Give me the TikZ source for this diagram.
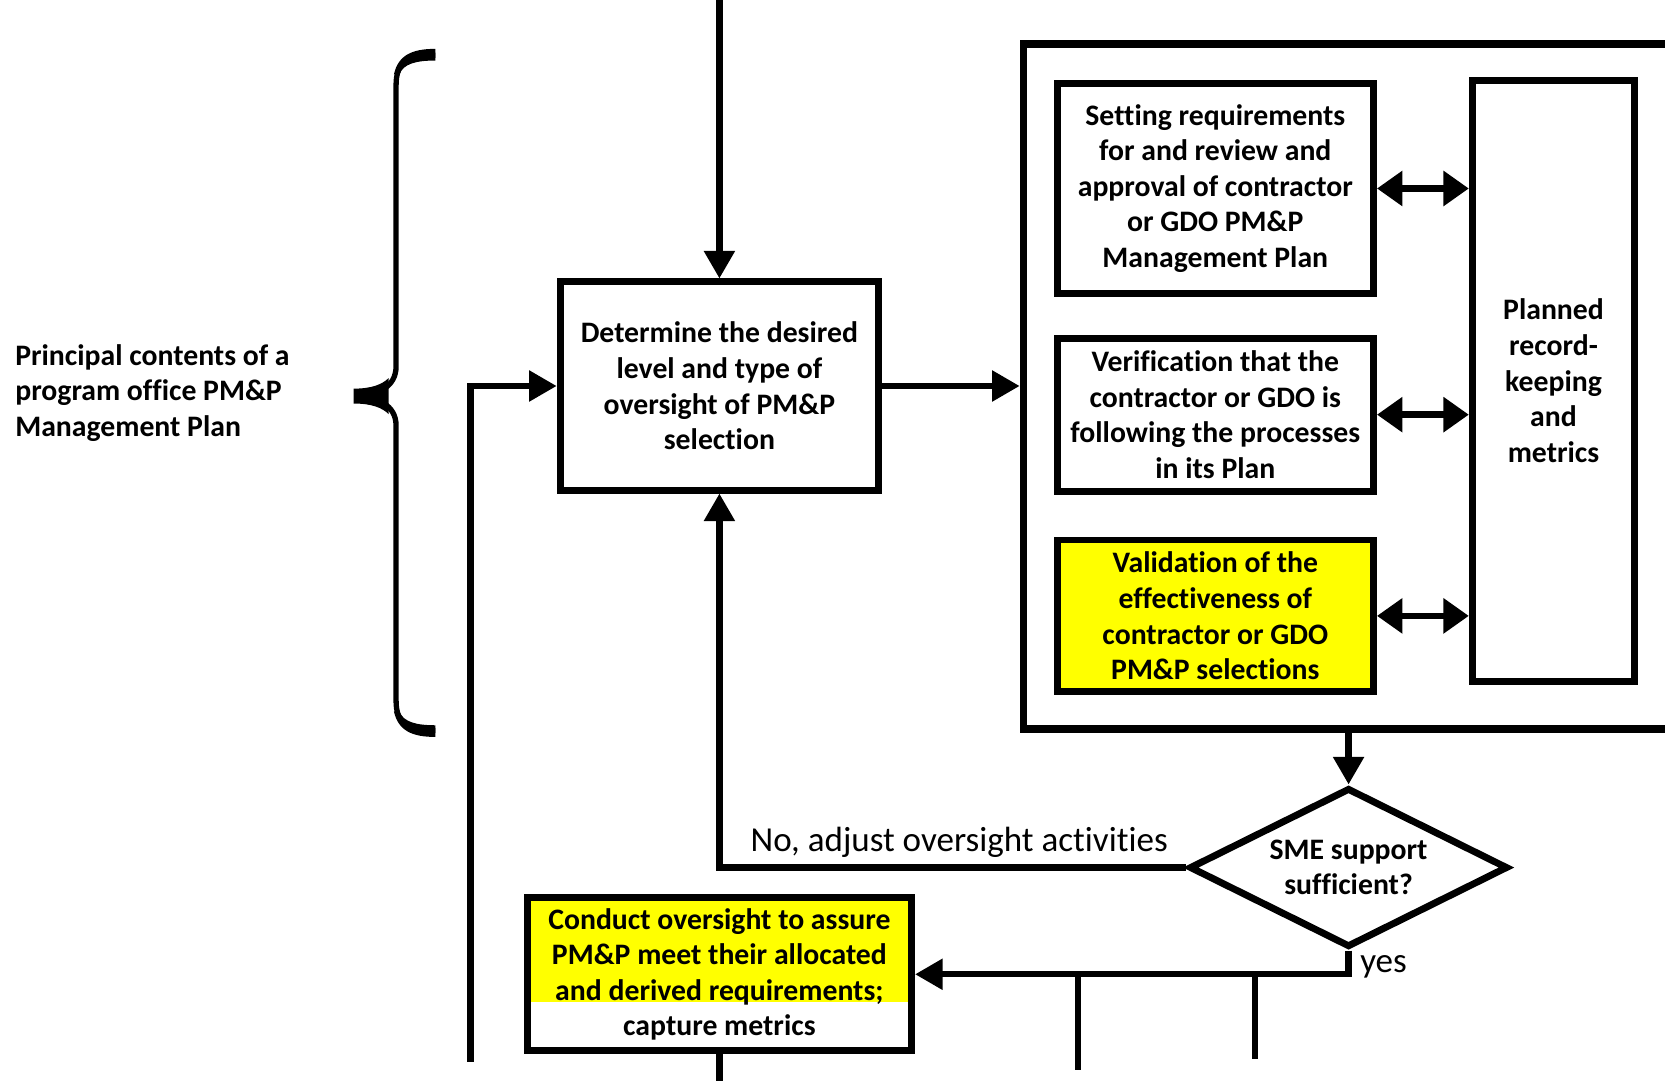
\documentclass[tikz,border=0pt]{standalone}
\usepackage{fontspec}
\setmainfont{Carlito}[Ligatures=NoCommon]
\usetikzlibrary{arrows.meta,shapes.geometric,positioning,calc}
\definecolor{hiyellow}{rgb}{1,1,0}

\begin{document}
\begin{tikzpicture}[x=0.5pt,y=-0.5pt]
        % Define the styles
        \tikzstyle{box}=[draw, line width=3.25pt, align=center, inner sep=2pt, font=\bfseries\fontsize{14}{16.75}\selectfont]
        \tikzstyle{flow}=[line width=3pt, -{Triangle[length=13pt,width=14pt]}]
        \tikzstyle{both}=[line width=3pt, {Triangle[length=12pt,width=16pt]}-{Triangle[length=12pt,width=16pt]}]
        \tikzstyle{wire}=[line width=3pt]
        \tikzstyle{note}=[inner sep=1pt, font=\fontsize{16.5}{19}\selectfont]

        % Frame of the picture
        \useasboundingbox (0,0) rectangle (1568,1018);
        \clip (0,0) rectangle (1568,1018);

        % Main boxes
        \node (det)[box, minimum width=150pt, minimum height=98pt] at (677.5,363.5) {Determine the desired\\level and type of\\oversight of PM\&P\\selection};
        \node (grp)[draw, line width=3.5pt, minimum width=318pt, minimum height=322.5pt] at (1281.75,364) {};
        \node (set)[box, minimum width=149pt, minimum height=99pt] at (1144.5,177.5) {Setting requirements\\for and review and\\approval of contractor\\or GDO PM\&P\\Management Plan};
        \node (ver)[box, minimum width=149pt, minimum height=72pt] at (1144.5,390.5) {Verification that the\\contractor or GDO is\\following the processes\\in its Plan};
        \node (val)[box, fill=hiyellow, minimum width=149pt, minimum height=71.5pt] at (1144.5,580) {Validation of the\\effectiveness of\\contractor or GDO\\PM\&P selections};
        \node (plan)[box, minimum width=76.5pt, minimum height=283pt] at (1463,358.5) {Planned\\record-\\keeping\\and\\metrics};
        \node (dec)[box, diamond, aspect=2, inner sep=0pt, minimum width=150pt, minimum height=75pt] at (1270,817) {SME support\\sufficient?};
        \node (con)[box, minimum width=181pt, minimum height=72pt,
            path picture={\fill[hiyellow] (path picture bounding box.north west) rectangle ([yshift=23pt]path picture bounding box.south east);}]
            at (677.5,917.5) {Conduct oversight to assure\\PM\&P meet their allocated\\and derived requirements;\\capture metrics};

        % Side label and its brace
        \node (princ)[anchor=west, align=left, inner sep=0pt, font=\bfseries\fontsize{14}{16.75}\selectfont] at (14,370) {Principal contents of a\\program office PM\&P\\Management Plan};
        \draw[line width=2.5pt] (410,52) .. controls (385,52) and (373,58) .. (373,80) -- (373,345)
            .. controls (373,365) and (355,372) .. (335,373) .. controls (355,374) and (373,381) .. (373,401)
            -- (373,660) .. controls (373,682) and (385,688) .. (410,688);
        \fill (410,46) .. controls (388,46) and (375,52) .. (371,70) -- (376,70) .. controls (380,60) and (392,57) .. (410,57) -- cycle;
        \fill (410,694) .. controls (388,694) and (375,688) .. (371,670) -- (376,670) .. controls (380,680) and (392,683) .. (410,683) -- cycle;
        \fill (333,366) .. controls (350,366) and (360,362) .. (366,356) -- (366,390) .. controls (360,384) and (350,380) .. (333,380) -- cycle;

        % Loose ends
        \coordinate (topin) at (677.5,0);
        \coordinate (loop) at (443,1000);
        \coordinate (br1) at (1015,1008);
        \coordinate (br2) at (1182,997);
        \coordinate (conout) at (677.5,1030);

        % Connectors
        \draw[flow] (topin) -- (det.north);
        \draw[flow] (det.east) -- (det.east -| grp.west);
        \draw[both] (set.east) -- (set.east -| plan.west);
        \draw[both] (ver.east) -- (ver.east -| plan.west);
        \draw[both] (val.east) -- (val.east -| plan.west);
        \draw[flow] (dec.north |- grp.south) -- (dec.north);
        \draw[flow] (dec.west) -- (det.south |- dec.west) node (nolbl)[note, pos=0, anchor=south east, xshift=-6pt, yshift=2pt] {No, adjust oversight activities} -- (det.south);
        \draw[flow] (dec.south) |- (con.east) node (yeslbl)[note, pos=0, anchor=north west, xshift=3pt] {yes};
        \draw[wire] (br1 |- con.east) -- (br1);
        \draw[wire] (br2 |- con.east) -- (br2);
        \draw[wire] (con.south) -- (conout);
        \draw[flow] (loop) |- (det.west);
\end{tikzpicture}
\end{document}
